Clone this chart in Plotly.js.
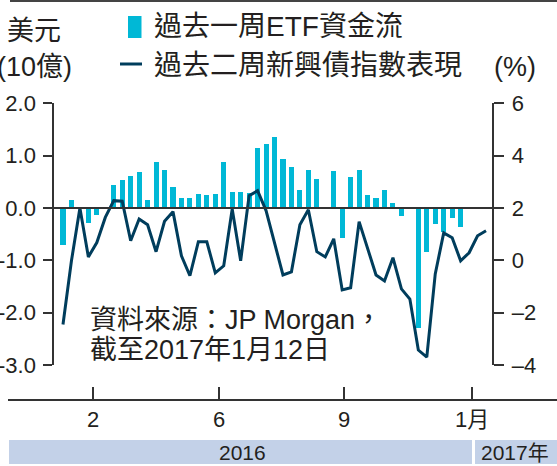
<!DOCTYPE html>
<html><head><meta charset="utf-8">
<script src="https://cdn.plot.ly/plotly-3.0.1.min.js"></script>
<style>html,body{margin:0;padding:0;background:#fff}#chart{width:557px;height:466px}</style>
</head><body><div id="chart"></div>
<script>
// Week index (weekly observations, Jan 2016 - 12 Jan 2017)
const weeks = [0,1,2,3,4,5,6,7,8,9,10,11,12,13,14,15,16,17,18,19,20,21,22,23,24,25,26,27,28,29,30,31,32,33,34,35,36,37,38,39,40,41,42,43,44,45,46,47,48,49,50];
// 過去一周ETF資金流 (US$ bn)
const etfFlow = [-0.70,0.16,null,-0.28,-0.14,null,0.43,0.54,0.62,0.69,0.16,0.88,0.73,0.41,0.20,0.20,0.27,0.24,0.27,0.87,0.31,0.31,0.29,1.15,1.23,1.36,0.94,0.79,0.35,0.73,0.56,null,0.71,-0.57,0.60,0.73,0.25,0.20,0.35,0.10,-0.15,null,-2.29,-0.85,-0.30,-0.45,-0.20,-0.36];
// 過去二周新興債指數表現 (%)
const bondIndex = [-2.45,-0.02,2.00,0.13,0.68,1.64,2.28,2.26,0.75,1.58,1.36,0.33,1.49,1.86,0.17,-0.59,0.71,0.71,-0.48,-0.21,1.96,-0.02,2.47,2.66,1.90,0.67,-0.56,-0.44,1.36,1.93,0.33,0.13,0.82,-1.13,-1.05,1.48,0.46,-0.56,-0.79,0.10,-1.09,-1.48,-3.43,-3.70,-0.52,1.05,0.86,-0.02,0.29,0.94,1.13];
const leftTicks = [-3,-2,-1,0,1,2];
const leftTickText = ['-3.0','-2.0','-1.0','0.0','1.0','2.0'];
const rightTicks = [-4,-2,0,2,4,6];
const rightTickText = ['–4','–2','0','2','4','6'];
const monthTicks = [3.55,18.44,33.22,48.35];
const monthTickText = ['2','6','9','1月'];
const legendBar = '過去一周ETF資金流';
const legendLine = '過去二周新興債指數表現';
const yearLabels = ['2016','2017年'];

const W = 557, H = 466;
const px = v => v / W;
const py = v => (H - v) / H;
const FONT = "'Liberation Sans', 'Noto Sans CJK TC', sans-serif";
const TXT = '#231f20';
const CYAN = '#00b8d6';
const NAVY = '#003d5c';

const barTrace = {
  type: 'bar', x: weeks.slice(0, etfFlow.length), y: etfFlow,
  name: legendBar, xaxis: 'x', yaxis: 'y',
  marker: {color: CYAN, line: {width: 0}}, width: 0.6, hoverinfo: 'skip'
};
const lineTrace = {
  type: 'scatter', mode: 'lines', x: weeks, y: bondIndex,
  name: legendLine, xaxis: 'x', yaxis: 'y2',
  line: {color: NAVY, width: 3}, hoverinfo: 'skip'
};

function ann(text, x, y, size, xanchor) {
  return {text: text, x: px(x), y: py(y), xref: 'paper', yref: 'paper',
    xanchor: xanchor || 'center', yanchor: 'middle', showarrow: false,
    font: {family: FONT, size: size, color: TXT}};
}

const layout = {
  width: W, height: H,
  margin: {l: 0, r: 0, t: 0, b: 0, pad: 0},
  paper_bgcolor: '#fff', plot_bgcolor: 'rgba(0,0,0,0)',
  showlegend: false, bargap: 0,
  font: {family: FONT, color: TXT},
  xaxis: {
    domain: [px(8), 1], range: [-6.50, 58.39],
    anchor: 'free', position: py(399),
    showline: true, linecolor: '#333', linewidth: 1.5,
    ticks: 'inside', ticklen: 12, tickwidth: 1.5, tickcolor: '#333',
    tickmode: 'array', tickvals: monthTicks, ticktext: monthTickText,
    tickfont: {family: FONT, size: 22, color: TXT},
    showgrid: false, zeroline: false, fixedrange: true
  },
  yaxis: {
    domain: [py(365), py(103.3)], range: [-3, 2],
    anchor: 'free', position: px(53.3),
    showline: true, linecolor: '#333', linewidth: 2,
    ticks: 'outside', ticklen: 9, tickwidth: 2, tickcolor: '#333',
    tickmode: 'array', tickvals: leftTicks, ticktext: leftTickText,
    tickfont: {family: FONT, size: 22, color: TXT}, ticklabelstandoff: 3,
    showgrid: false, zeroline: false, fixedrange: true
  },
  yaxis2: {
    overlaying: 'y', side: 'right', range: [-4, 6],
    anchor: 'free', position: px(493.3),
    showline: true, linecolor: '#333', linewidth: 2,
    ticks: 'outside', ticklen: 10, tickwidth: 2, tickcolor: '#333',
    tickmode: 'array', tickvals: rightTicks, ticktext: rightTickText,
    tickfont: {family: FONT, size: 22, color: TXT}, ticklabelstandoff: 3,
    showgrid: false, zeroline: false, fixedrange: true
  },
  shapes: [
    {type: 'line', xref: 'paper', yref: 'paper', x0: px(10), x1: 1, y0: py(1), y1: py(1), line: {color: '#444', width: 2}},
    {type: 'line', xref: 'paper', yref: 'y', x0: px(53.3), x1: px(493.3), y0: 0, y1: 0, line: {color: '#333', width: 2}, layer: 'above'},
    {type: 'rect', xref: 'paper', yref: 'paper', x0: px(128), x1: px(141.5), y0: py(38), y1: py(16), fillcolor: CYAN, line: {width: 0}},
    {type: 'line', xref: 'paper', yref: 'paper', x0: px(120), x1: px(142), y0: py(64), y1: py(64), line: {color: NAVY, width: 3}},
    {type: 'rect', xref: 'paper', yref: 'paper', x0: px(9), x1: 1, y0: py(464), y1: py(440), fillcolor: '#c3d1e8', line: {width: 0}},
    {type: 'line', xref: 'paper', yref: 'paper', x0: px(473.5), x1: px(473.5), y0: py(464), y1: py(440), line: {color: '#fff', width: 3}}
  ],
  annotations: [
    ann('美元', 34, 31, 27),
    ann('(10億)', 34, 67, 27),
    ann(legendBar, 152, 27, 28, 'left'),
    ann(legendLine, 152, 65, 28, 'left'),
    ann('(%)', 515, 67, 27),
    ann('資料來源：JP Morgan，', 88, 320, 27, 'left'),
    ann('截至2017年1月12日', 88, 350, 27, 'left'),
    ann(yearLabels[0], 242, 452, 21),
    ann(yearLabels[1], 515, 452, 21)
  ]
};

Plotly.newPlot('chart', [barTrace, lineTrace], layout, {staticPlot: true, displayModeBar: false});
</script>
</body></html>
